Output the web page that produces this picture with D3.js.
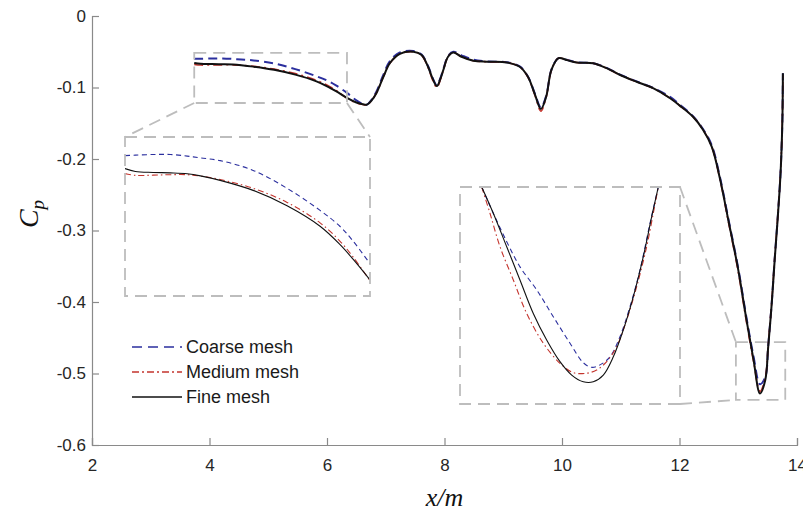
<!DOCTYPE html>
<html>
<head>
<meta charset="utf-8">
<script src="https://cdnjs.cloudflare.com/ajax/libs/d3/7.8.5/d3.min.js"></script>
<style>
  body { margin: 0; background: #fff; }
  svg { display: block; }
  .tick text { font-family: "Liberation Sans", Arial, sans-serif; font-size: 17px; fill: #262626; }
</style>
</head>
<body>
<script>
// Valores
const xTicks = [2, 4, 6, 8, 10, 12, 14];
const yTicks = [0, -0.1, -0.2, -0.3, -0.4, -0.5, -0.6];
const seriesNames = ["Coarse mesh", "Medium mesh", "Fine mesh"];

const xs = [3.74, 3.85, 4.04, 4.22, 4.40, 4.54, 4.75, 5.10, 5.46, 5.81, 6.02, 6.16, 6.34,
  6.50, 6.61, 6.68, 6.76, 6.84, 6.96, 7.07, 7.24, 7.47, 7.61, 7.72, 7.80, 7.87, 7.93, 7.98,
  8.06, 8.15, 8.29, 8.49, 8.72, 9.06, 9.28, 9.42, 9.54, 9.64, 9.73, 9.82, 9.94, 10.08, 10.25,
  10.53, 10.76, 10.99, 11.27, 11.55, 11.84, 12.00, 12.23, 12.40, 12.55, 12.69, 12.83, 13.00,
  13.14, 13.26, 13.37, 13.46, 13.51, 13.57, 13.62, 13.67, 13.72, 13.75, 13.76];

const fine = [-0.0656, -0.0669, -0.0673, -0.0675, -0.0679, -0.0688, -0.0708, -0.0752, -0.0820,
  -0.0910, -0.0990, -0.1055, -0.1146, -0.1210, -0.1235, -0.1240, -0.1180, -0.1080, -0.0850,
  -0.0660, -0.0530, -0.0500, -0.0545, -0.0710, -0.0880, -0.0980, -0.0880, -0.0755, -0.0570,
  -0.0510, -0.0570, -0.0625, -0.0640, -0.0650, -0.0710, -0.0850, -0.1100, -0.1300, -0.1130,
  -0.0755, -0.0590, -0.0615, -0.0650, -0.0660, -0.0730, -0.0825, -0.0920, -0.1010, -0.1150,
  -0.1250, -0.1410, -0.1590, -0.1830, -0.2280, -0.2850, -0.3550, -0.4250, -0.4810, -0.5280,
  -0.5090, -0.4625, -0.4020, -0.3410, -0.2850, -0.2200, -0.1500, -0.0800];

const coarse = [-0.0599, -0.0597, -0.0594, -0.0594, -0.0601, -0.0609, -0.0621, -0.0664, -0.0743,
  -0.0840, -0.0910, -0.0975, -0.1075, -0.1180, -0.1230, -0.1240, -0.1170, -0.1060, -0.0820,
  -0.0630, -0.0510, -0.0490, -0.0540, -0.0700, -0.0870, -0.0970, -0.0870, -0.0745, -0.0560,
  -0.0500, -0.0550, -0.0610, -0.0635, -0.0648, -0.0705, -0.0845, -0.1090, -0.1280, -0.1120,
  -0.0750, -0.0590, -0.0612, -0.0648, -0.0660, -0.0725, -0.0820, -0.0915, -0.1005, -0.1130,
  -0.1235, -0.1400, -0.1580, -0.1810, -0.2260, -0.2830, -0.3530, -0.4220, -0.4760, -0.5150,
  -0.5050, -0.4610, -0.4010, -0.3400, -0.2840, -0.2190, -0.1500, -0.0800];

const medium = [-0.0678, -0.0686, -0.0685, -0.0683, -0.0683, -0.0689, -0.0704, -0.0743, -0.0805,
  -0.0895, -0.0975, -0.1045, -0.1150, -0.1215, -0.1238, -0.1242, -0.1180, -0.1080, -0.0850,
  -0.0660, -0.0530, -0.0500, -0.0550, -0.0720, -0.0900, -0.1000, -0.0890, -0.0760, -0.0570,
  -0.0510, -0.0570, -0.0625, -0.0640, -0.0650, -0.0710, -0.0855, -0.1110, -0.1330, -0.1140,
  -0.0760, -0.0590, -0.0615, -0.0650, -0.0660, -0.0730, -0.0825, -0.0920, -0.1010, -0.1150,
  -0.1250, -0.1410, -0.1590, -0.1830, -0.2290, -0.2870, -0.3580, -0.4280, -0.4830, -0.5250,
  -0.5060, -0.4600, -0.4000, -0.3390, -0.2830, -0.2180, -0.1480, -0.0780];

// zoom do minimo (inset da direita), pares [x, Cp]
const zoomCoarse = [[13.2075, -0.455], [13.2275, -0.4648], [13.2507, -0.4754], [13.2736, -0.4848],
  [13.3025, -0.4934], [13.3311, -0.5034], [13.3600, -0.5133], [13.3830, -0.5206], [13.3975, -0.5223],
  [13.4118, -0.5214], [13.4291, -0.5184], [13.4463, -0.5109], [13.4636, -0.4997], [13.4809, -0.4860],
  [13.4982, -0.4686], [13.5125, -0.455]];
const zoomMedium = [[13.2075, -0.455], [13.2218, -0.4648], [13.2391, -0.4773], [13.2621, -0.4897],
  [13.2852, -0.5022], [13.3139, -0.5133], [13.3427, -0.5208], [13.3657, -0.5243], [13.3888, -0.5245],
  [13.4061, -0.5233], [13.4234, -0.5202], [13.4406, -0.5146], [13.4579, -0.5046], [13.4752, -0.4922],
  [13.4924, -0.4773], [13.5039, -0.4648], [13.5125, -0.455]];
const zoomFine = [[13.2075, -0.455], [13.2275, -0.4648], [13.2507, -0.4773], [13.2736, -0.4897],
  [13.2966, -0.5022], [13.3197, -0.5121], [13.3427, -0.5202], [13.3629, -0.5252], [13.3830, -0.5277],
  [13.4002, -0.5277], [13.4175, -0.5252], [13.4348, -0.5184], [13.4520, -0.5084], [13.4693, -0.4960],
  [13.4866, -0.4810], [13.5011, -0.4661], [13.5125, -0.455]];

// regioes ampliadas (unidades dos dados)
const zoom1Region = {x: [3.74, 6.34], y: [-0.1217, -0.0517]};
const zoom2Region = {x: [12.96, 13.80], y: [-0.537, -0.456]};
const zoom2Domain = {x: [13.17, 13.55], y: [-0.536, -0.455]};

// Estilos
const styles = [
  {color: "#2b2f9e", dash: "9,5", width: 2, dashIn: "5,3.5"},
  {color: "#c4352e", dash: "9,4,2,4", width: 1.6, dashIn: "6,3,1.5,3"},
  {color: "#111", dash: null, width: 2, dashIn: null}
];
const boxColor = "#bdbdbd";

const W = 803, H = 517;
const margin = {top: 16, right: 6, bottom: 72, left: 92};

const svg = d3.select("body").append("svg").attr("width", W).attr("height", H);

const x = d3.scaleLinear().domain([2, 14]).range([margin.left, W - margin.right]);
const y = d3.scaleLinear().domain([-0.6, 0]).range([H - margin.bottom, margin.top]);

// Eixos (ticks para dentro, estilo matlab)
const gx = svg.append("g")
  .attr("transform", "translate(0," + (H - margin.bottom) + ")")
  .call(d3.axisBottom(x).tickValues(xTicks).tickSize(-7).tickPadding(14).tickFormat(d3.format("d")));
const gy = svg.append("g")
  .attr("transform", "translate(" + margin.left + ",0)")
  .call(d3.axisLeft(y).tickValues(yTicks).tickSize(-7).tickPadding(6).tickFormat(d => d === 0 ? "0" : d3.format(".1f")(d).replace("−", "-")));
[gx, gy].forEach(g => {
  g.selectAll("path, line").attr("stroke", "#8a8a8a").attr("stroke-width", 1.2);
});

// Titulos dos eixos
svg.append("text")
  .attr("x", (x.range()[0] + x.range()[1]) / 2).attr("y", 506)
  .attr("text-anchor", "middle")
  .style("font-family", "'Liberation Serif', 'DejaVu Serif', serif")
  .style("font-style", "italic").style("font-size", "26px").attr("fill", "#111")
  .text("x/m");

const yl = svg.append("text")
  .attr("transform", "translate(38," + 214 + ") rotate(-90)")
  .attr("text-anchor", "middle")
  .style("font-family", "'Liberation Serif', 'DejaVu Serif', serif")
  .style("font-style", "italic").style("font-size", "28px").attr("fill", "#111");
yl.append("tspan").text("C");
yl.append("tspan").attr("dy", 6).style("font-size", "19px").text("p");

const mainSeries = [coarse, medium, fine];

function drawCurves(g, sx, sy, pts, st, inset) {
  const line = d3.line()
    .x(d => sx(d[0])).y(d => sy(d[1]))
    .curve(d3.curveCatmullRom.alpha(0.5));
  g.append("path")
    .datum(pts)
    .attr("fill", "none")
    .attr("stroke", st.color)
    .attr("stroke-width", inset ? 1.1 : st.width)
    .attr("stroke-dasharray", inset ? st.dashIn : st.dash)
    .attr("stroke-linejoin", "round")
    .attr("d", line);
}

// Curvas principais
const gMain = svg.append("g");
mainSeries.forEach((s, i) => {
  drawCurves(gMain, x, y, xs.map((v, j) => [v, s[j]]), styles[i], false);
});

// Caixas tracejadas
function dashedRect(x0, y0, x1, y1) {
  svg.append("rect")
    .attr("x", Math.min(x0, x1)).attr("y", Math.min(y0, y1))
    .attr("width", Math.abs(x1 - x0)).attr("height", Math.abs(y1 - y0))
    .attr("fill", "none").attr("stroke", boxColor)
    .attr("stroke-width", 1.8).attr("stroke-dasharray", "12,7");
}
function dashedLine(x0, y0, x1, y1) {
  svg.append("line")
    .attr("x1", x0).attr("y1", y0).attr("x2", x1).attr("y2", y1)
    .attr("stroke", boxColor).attr("stroke-width", 1.8).attr("stroke-dasharray", "12,7");
}

// Inset 1 (lado esquerdo)
const in1 = {x: 125, y: 137, w: 245, h: 159};
const s1x = d3.scaleLinear().domain(zoom1Region.x).range([in1.x, in1.x + in1.w]);
const s1y = d3.scaleLinear().domain(zoom1Region.y).range([in1.y + in1.h, in1.y]);
svg.append("clipPath").attr("id", "clip1").append("rect")
  .attr("x", in1.x).attr("y", in1.y).attr("width", in1.w).attr("height", in1.h);
svg.append("rect").attr("x", in1.x).attr("y", in1.y).attr("width", in1.w).attr("height", in1.h).attr("fill", "#fff");
const g1 = svg.append("g").attr("clip-path", "url(#clip1)");
mainSeries.forEach((s, i) => {
  const pts = xs.map((v, j) => [v, s[j]]).filter(d => d[0] >= zoom1Region.x[0] - 1e-9 && d[0] <= zoom1Region.x[1] + 1e-9);
  drawCurves(g1, s1x, s1y, pts, styles[i], true);
});
dashedRect(x(zoom1Region.x[0]), y(zoom1Region.y[1]), x(zoom1Region.x[1]), y(zoom1Region.y[0]));
dashedRect(in1.x, in1.y, in1.x + in1.w, in1.y + in1.h);
dashedLine(x(zoom1Region.x[0]), y(zoom1Region.y[0]), in1.x, in1.y);
dashedLine(x(zoom1Region.x[1]), y(zoom1Region.y[0]), in1.x + in1.w, in1.y);

// Inset 2 (minimo)
const in2 = {x: 460, y: 187, w: 220, h: 217};
const s2x = d3.scaleLinear().domain(zoom2Domain.x).range([in2.x, in2.x + in2.w]);
const s2y = d3.scaleLinear().domain(zoom2Domain.y).range([in2.y + in2.h, in2.y]);
svg.append("rect").attr("x", in2.x).attr("y", in2.y).attr("width", in2.w).attr("height", in2.h).attr("fill", "#fff");
const g2 = svg.append("g");
[zoomCoarse, zoomMedium, zoomFine].forEach((s, i) => drawCurves(g2, s2x, s2y, s, styles[i], true));
dashedRect(x(zoom2Region.x[0]), y(zoom2Region.y[1]), x(zoom2Region.x[1]), y(zoom2Region.y[0]));
dashedRect(in2.x, in2.y, in2.x + in2.w, in2.y + in2.h);
dashedLine(in2.x + in2.w, in2.y, x(zoom2Region.x[0]), y(zoom2Region.y[1]));
dashedLine(in2.x + in2.w, in2.y + in2.h, x(zoom2Region.x[0]), y(zoom2Region.y[0]));

// Legenda
const leg = svg.append("g").attr("transform", "translate(132,347)");
seriesNames.forEach((name, i) => {
  const row = leg.append("g").attr("transform", "translate(0," + i * 25 + ")");
  row.append("line").attr("x1", 0).attr("x2", 50).attr("y1", 0).attr("y2", 0)
    .attr("stroke", styles[i].color).attr("stroke-width", 1.6)
    .attr("stroke-dasharray", i === 0 ? "10,6" : (i === 1 ? "7,3,2,3" : null));
  row.append("text").attr("x", 54).attr("y", 6)
    .style("font-family", "'Liberation Sans', Arial, sans-serif").style("font-size", "18px")
    .attr("fill", "#1a1a1a").text(name);
});
</script>
</body>
</html>
